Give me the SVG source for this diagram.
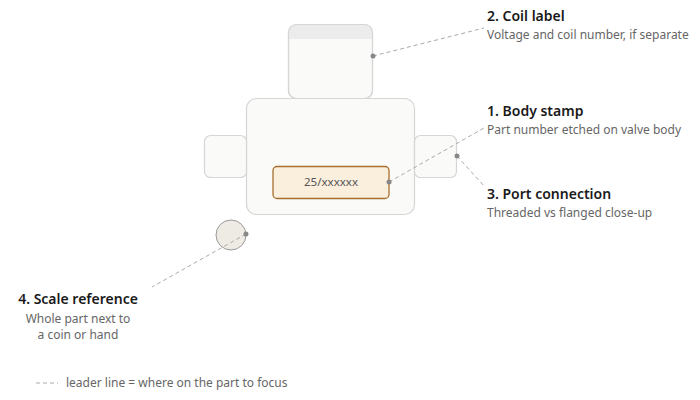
<svg xmlns="http://www.w3.org/2000/svg" width="700" height="400" viewBox="0 0 700 400">
<style>
.part{fill:#fafaf9;stroke:#d6d6d6;stroke-width:1.2}
.lead{stroke:#aaaaaa;stroke-width:1;stroke-dasharray:4 3;fill:none}
.dot{fill:#888888}
.t{font-family:"Noto Sans","Open Sans",sans-serif;font-size:14px;font-weight:600;fill:#1a1a1a}
.s{font-family:"Noto Sans","Open Sans",sans-serif;font-size:12px;fill:#666666}
</style>
<rect width="700" height="400" fill="#ffffff"/>
<g id="coil">
<rect class="part" x="288.5" y="24.5" width="84" height="74" rx="8"/>
<path d="M289.1 39 V32.5 a8 8 0 0 1 8 -8 H364.5 a8 8 0 0 1 8 8 V39 Z" fill="#ececec"/>
<rect x="288.5" y="24.5" width="84" height="74" rx="8" fill="none" stroke="#d6d6d6" stroke-width="1.2"/>
</g>
<g id="body">
<rect class="part" x="246.5" y="98.5" width="168" height="116" rx="10"/>
</g>
<g id="port-left">
<rect class="part" x="204.5" y="135.5" width="42" height="42" rx="6"/>
</g>
<g id="port-right">
<rect class="part" x="414.5" y="135.5" width="42" height="42" rx="6"/>
</g>
<g id="stamp">
<rect x="273" y="166.5" width="116" height="32" rx="4" fill="#faeedd" stroke="#a8702e" stroke-width="1.3"/>
<text x="331" y="186" text-anchor="middle" font-family="Noto Sans,Open Sans,sans-serif" font-size="11.5" fill="#555555">25/xxxxxx</text>
</g>
<g id="coin">
<circle cx="231" cy="235" r="15" fill="#eeebe5" stroke="#999999" stroke-width="1"/>
</g>
<g id="connectors">
<line class="lead" x1="373" y1="56" x2="484" y2="28"/>
<line class="lead" x1="389" y1="182" x2="484" y2="128"/>
<line class="lead" x1="457" y1="156" x2="484" y2="186"/>
<line class="lead" x1="246" y1="234" x2="152" y2="287"/>
<circle class="dot" cx="373" cy="56" r="2.5"/>
<circle class="dot" cx="389" cy="182" r="2.5"/>
<circle class="dot" cx="457" cy="156" r="2.5"/>
<circle class="dot" cx="246" cy="234" r="2.5"/>
</g>
<g id="label-coil">
<text class="t" x="487" y="21">2. Coil label</text>
<text class="s" x="487" y="39">Voltage and coil number, if separate</text>
</g>
<g id="label-body">
<text class="t" x="487" y="116">1. Body stamp</text>
<text class="s" x="487" y="134">Part number etched on valve body</text>
</g>
<g id="label-port">
<text class="t" x="487" y="199">3. Port connection</text>
<text class="s" x="487" y="217">Threaded vs flanged close-up</text>
</g>
<g id="label-scale">
<text class="t" x="78" y="304" text-anchor="middle">4. Scale reference</text>
<text class="s" x="78" y="323" text-anchor="middle">Whole part next to</text>
<text class="s" x="78" y="339" text-anchor="middle">a coin or hand</text>
</g>
<g id="legend">
<line class="lead" x1="36" y1="383" x2="58" y2="383"/>
<text class="s" x="66" y="387">leader line = where on the part to focus</text>
</g>
</svg>
